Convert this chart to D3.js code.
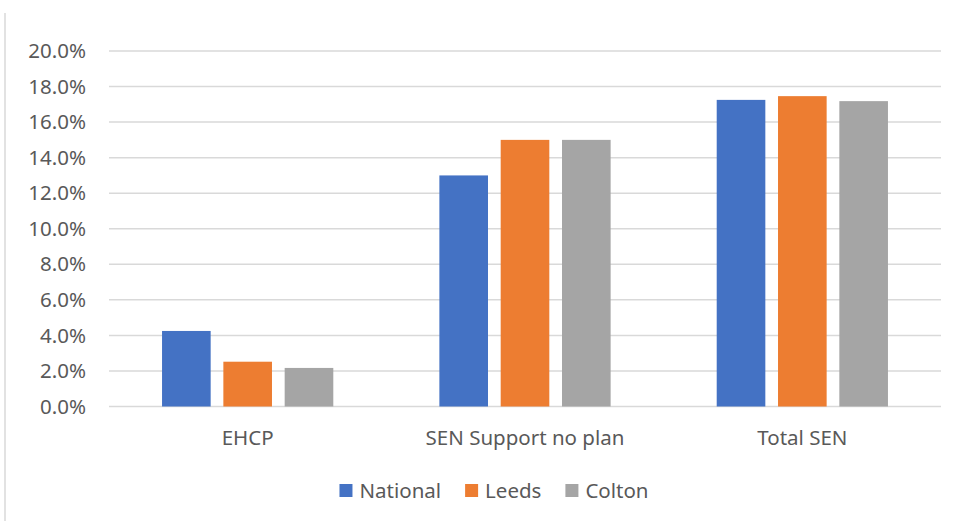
<!DOCTYPE html>
<html>
<head>
<meta charset="utf-8">
<script src="https://cdn.jsdelivr.net/npm/d3@7"></script>
<style>
  html, body { margin: 0; padding: 0; background: #fff; }
  svg text { font-family: "Noto Sans", "Open Sans", sans-serif; fill: #595959; font-size: 20.5px; }
</style>
</head>
<body>
<div id="chart"></div>
<script>
// chart data
var categories = ["EHCP", "SEN Support no plan", "Total SEN"];
var seriesNames = ["National", "Leeds", "Colton"];
var national = [0.0425, 0.130, 0.1725];
var leeds = [0.0252, 0.150, 0.1746];
var colton = [0.0217, 0.150, 0.1718];
var yTicks = [0, 0.02, 0.04, 0.06, 0.08, 0.10, 0.12, 0.14, 0.16, 0.18, 0.20];
var colors = ["#4472C4", "#ED7D31", "#A5A5A5"];

var width = 957;
var height = 521;
var seriesValues = [national, leeds, colton];

var svg = d3.select("#chart")
  .append("svg")
  .attr("width", width)
  .attr("height", height);

// left edge of the chart frame
svg.append("line")
  .attr("x1", 5).attr("x2", 5)
  .attr("y1", 13).attr("y2", height)
  .attr("stroke", "#d9d9d9")
  .attr("stroke-width", 1.5);

var x0 = d3.scaleBand()
  .domain(categories)
  .range([109, 941])
  .padding(0);

var x1 = d3.scaleBand()
  .domain(seriesNames)
  .range([0, x0.bandwidth()])
  .paddingInner(0.207)
  .paddingOuter(0.865);

var y = d3.scaleLinear()
  .domain([0, 0.2])
  .range([406.5, 51]);

// gridlines
svg.append("g")
  .selectAll("line")
  .data(yTicks)
  .enter().append("line")
  .attr("x1", 109)
  .attr("x2", 941)
  .attr("y1", function (d) { return y(d); })
  .attr("y2", function (d) { return y(d); })
  .attr("stroke", "#d9d9d9")
  .attr("stroke-width", 1.5);

// y labels
svg.append("g")
  .selectAll("text")
  .data(yTicks)
  .enter().append("text")
  .attr("x", 86)
  .attr("y", function (d) { return y(d); })
  .attr("dy", "0.35em")
  .attr("text-anchor", "end")
  .text(function (d) { return d3.format(".1%")(d); });

// bars
var groups = svg.append("g")
  .selectAll("g")
  .data(categories)
  .enter().append("g")
  .attr("transform", function (d) { return "translate(" + x0(d) + ",0)"; });

groups.selectAll("rect")
  .data(function (d, i) {
    return seriesNames.map(function (s, j) {
      return { series: s, value: seriesValues[j][i], index: j };
    });
  })
  .enter().append("rect")
  .attr("x", function (d) { return x1(d.series); })
  .attr("width", x1.bandwidth())
  .attr("y", function (d) { return y(d.value); })
  .attr("height", function (d) { return y(0) - y(d.value); })
  .attr("fill", function (d) { return colors[d.index]; });

// category labels
svg.append("g")
  .selectAll("text")
  .data(categories)
  .enter().append("text")
  .attr("x", function (d) { return x0(d) + x0.bandwidth() / 2; })
  .attr("y", 438)
  .attr("dy", "0.35em")
  .attr("text-anchor", "middle")
  .text(function (d) { return d; });

// legend
var legend = svg.append("g");
var items = legend.selectAll("g")
  .data(seriesNames)
  .enter().append("g");
items.append("rect")
  .attr("width", 13)
  .attr("height", 13)
  .attr("y", 484)
  .attr("fill", function (d, i) { return colors[i]; });
items.append("text")
  .attr("x", 20)
  .attr("y", 490.5)
  .attr("dy", "0.35em")
  .text(function (d) { return d; });

var offset = 0;
var positions = [];
items.each(function (d) {
  var w = d3.select(this).select("text").node().getComputedTextLength();
  positions.push(offset);
  offset += 20 + w + 24;
});
var totalW = offset - 24;
var startX = 494 - totalW / 2;
items.attr("transform", function (d, i) { return "translate(" + (startX + positions[i]) + ",0)"; });
</script>
</body>
</html>
